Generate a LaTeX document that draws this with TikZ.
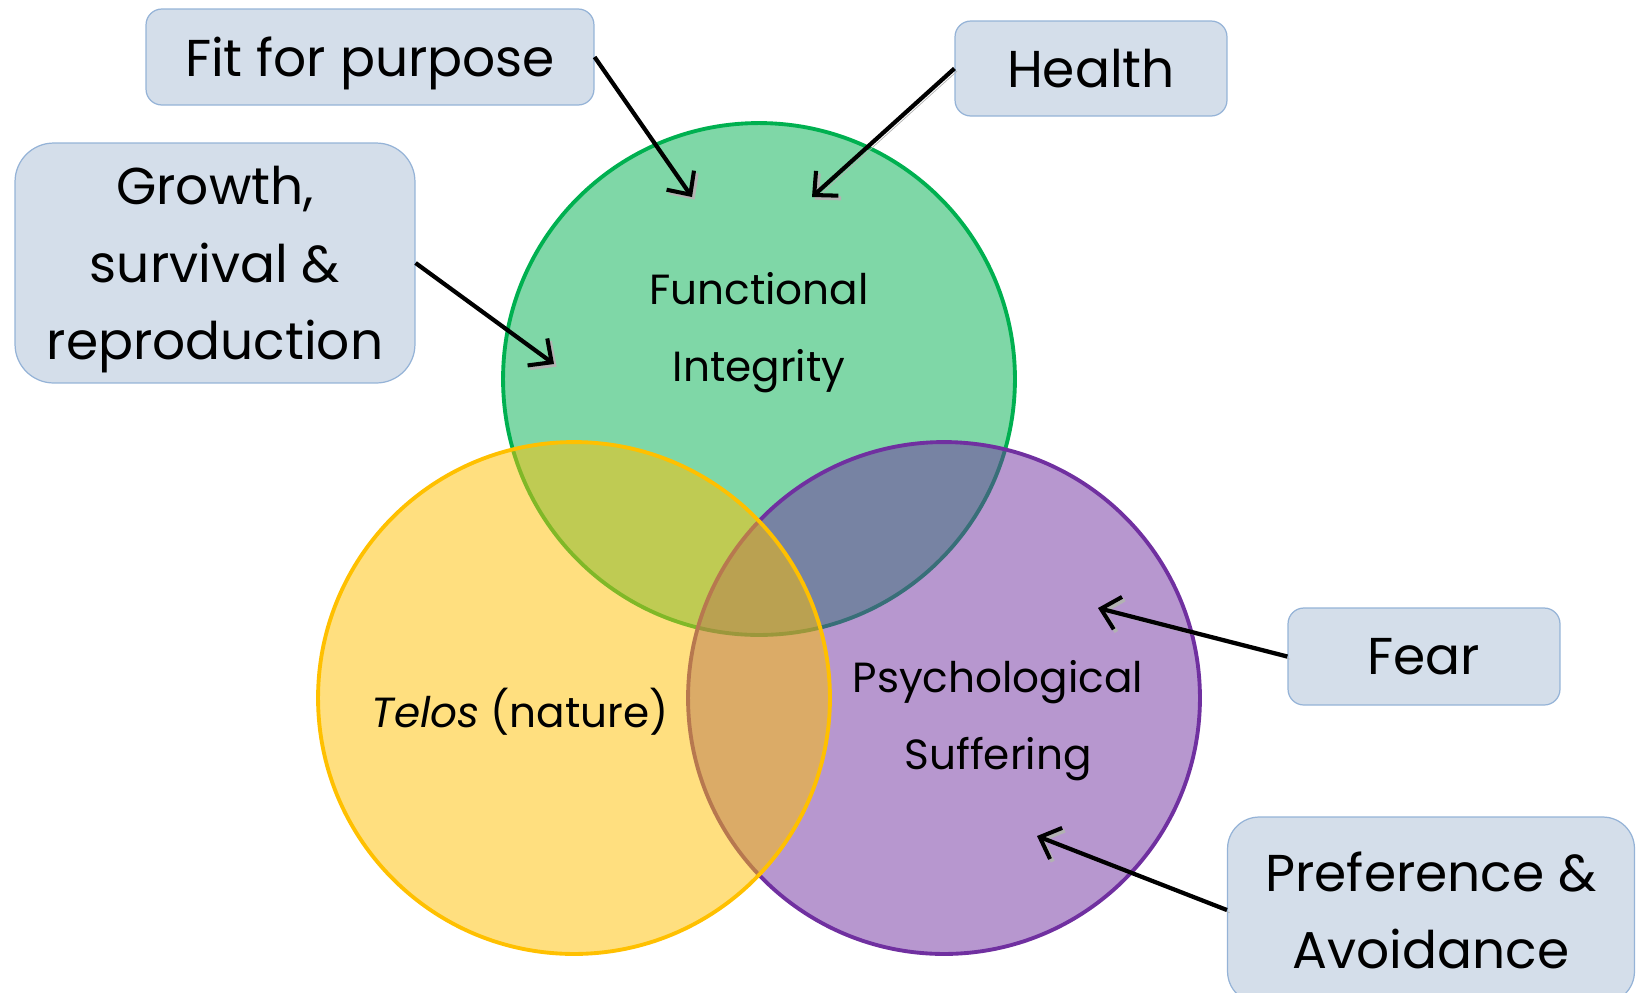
\documentclass[tikz,border=0pt]{standalone}
\usepackage{fontspec}
\setmainfont{Poppins}
\usetikzlibrary{arrows.meta}
\definecolor{fgreen}{HTML}{00B050}
\definecolor{fyellow}{HTML}{FFC000}
\definecolor{fpurple}{HTML}{7030A0}
\definecolor{boxfill}{HTML}{D4DEEA}
\definecolor{boxline}{HTML}{95B3D7}
\tikzset{block/.style = {draw=boxline, fill=boxfill, line width=0.7pt, rectangle, rounded corners=9pt, align=center, text depth=0pt, font=\fontsize{29.5}{44}\selectfont},
         venn/.style = {draw=#1, fill=#1, fill opacity=0.5, line width=2.2pt, circle, minimum size=10.24cm, inner sep=0pt},
         vtext/.style = {align=center, text depth=0pt, font=\fontsize{24}{44}\selectfont},
         arr/.style = {-{Straight Barb[length=10pt,width=19pt,line width=2.3pt]}, line width=2.4pt,
                       preaction={draw=black!30, transform canvas={shift={(1.5pt,-1.5pt)}}}}}

\begin{document}
\begin{tikzpicture}[x=0.02cm,y=-0.02cm]
        \useasboundingbox(0,0)rectangle(1639,992);
        \node[venn=fgreen](g)at(759,379){};
        \node[venn=fpurple](p)at(944,698){};
        \node[venn=fyellow](y)at(574,698){};
        \node[vtext](fi)at(759,327){Functional\\Integrity};
        \node[vtext](te)at(520,708){\textit{Telos} (nature)};
        \node[vtext](ps)at(998,715){Psychological\\Suffering};
        \node[block, minimum width=8.96cm, minimum height=1.92cm](fit)at(370,57){Fit for purpose};
        \node[block, minimum width=5.44cm, minimum height=1.9cm](health)at(1091,68.5){Health};
        \node[block, minimum width=8cm, minimum height=4.8cm, rounded corners=22pt](growth)at(215,263){Growth,\\survival \&\\reproduction};
        \node[block, minimum width=5.44cm, minimum height=1.94cm](fear)at(1424,656.5){Fear};
        \node[block, minimum width=8.14cm, minimum height=3.72cm, rounded corners=18pt](pref)at(1431,910){Preference \&\\Avoidance};
        \coordinate(a1)at(692,197);
        \coordinate(a2)at(812,197);
        \coordinate(a3)at(554,364);
        \coordinate(a4)at(1098,608);
        \coordinate(a5)at(1037,836);
        \draw[arr](fit.east)--(a1);
        \draw[arr](health.west)--(a2);
        \draw[arr](growth.east)--(a3);
        \draw[arr](fear.west)--(a4);
        \draw[arr](pref.west)--(a5);
    \end{tikzpicture}
\end{document}
